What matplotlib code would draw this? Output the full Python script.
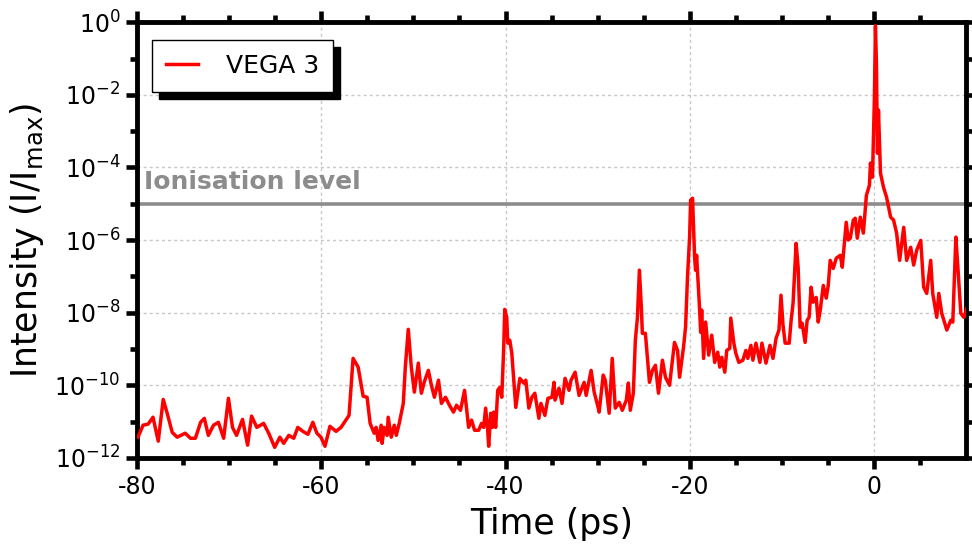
"""Temporal intensity contrast of the VEGA 3 laser pulse, log scale, with ionisation level."""
import numpy as np
import matplotlib; matplotlib.use("Agg"); import matplotlib.pyplot as plt
from matplotlib.patches import Rectangle
from matplotlib.ticker import NullFormatter

plt.rcParams.update({"font.family": "DejaVu Sans", "axes.unicode_minus": False,
                     "mathtext.fontset": "dejavusans"})

# time (ps) and log10 of normalised intensity
t = [-79.9, -79.35, -78.8, -78.27, -77.7, -77.16, -76.73, -76.18, -75.64, -74.77, -74.2, -73.67,
     -73.1, -72.7, -72.26, -71.7, -71.17, -70.6, -70.08, -69.64, -69.2, -68.55, -68.0, -67.57,
     -67.0, -66.26, -65.71, -65.06, -64.5, -64.08,
     -63.53, -62.99, -62.55, -62.0, -61.45, -60.92, -60.48, -60.04, -59.6, -59.06, -58.4, -57.86,
     -56.99, -56.55, -56.0, -55.46, -55.03, -54.7, -54.26, -54.05, -53.83, -53.5, -53.4, -53.17,
     -52.85, -52.74, -52.41, -52.08, -51.86, -51.54, -51.1, -50.88, -50.56, -50.23, -49.9, -49.47, -49.14,
     -48.81, -48.38, -48.05, -47.72, -47.28, -46.96, -46.52, -46.09, -45.65, -45.32, -44.89, -44.45,
     -44.01, -43.69, -43.36, -42.92, -42.6, -42.38, -42.16, -41.94, -41.83, -41.61, -41.4, -41.29,
     -41.07, -40.85, -40.63, -40.41, -40.2, -40.09, -39.87, -39.76, -39.54, -39.32, -39.11, -38.89,
     -38.45, -38.02, -37.8, -37.47, -37.14, -36.82, -36.38, -36.16, -35.73, -35.4, -34.96, -34.74,
     -34.63, -34.2, -33.87, -33.54,
     -33.11, -32.89, -32.45, -32.02, -31.47, -31.25, -30.71, -30.38, -29.95, -29.84, -29.4, -29.18,
     -28.75, -28.42, -28.09, -27.66, -27.33, -26.89, -26.67, -26.46, -26.13, -25.91, -25.69, -25.47,
     -25.26, -25.15, -24.82, -24.6, -24.38, -24.06, -23.73, -23.4, -22.97, -22.64, -22.2, -21.66,
     -21.33, -21.11, -20.68, -20.46, -20.24, -20.02, -19.91, -19.7, -19.48, -19.37, -19.26, -18.93,
     -18.82, -18.71, -18.5, -18.28,
     -17.95, -17.62, -17.3, -16.97, -16.75, -16.53, -16.2, -15.99, -15.66, -15.55, -15.22, -15.0,
     -14.68, -14.24, -13.91, -13.7, -13.37, -13.15, -12.82, -12.39, -12.17, -11.73, -11.3, -10.97,
     -10.64, -10.32, -10.1, -9.88, -9.65, -9.21, -9.0, -8.79, -8.46, -8.24, -8.02, -7.81, -7.48,
     -7.26, -7.05, -6.83, -6.61, -6.28, -6.06, -5.84, -5.51, -5.19, -4.97, -4.76, -4.43, -4.1,
     -3.66, -3.45, -3.02, -2.8, -2.58, -2.25, -2.04, -1.82, -1.49, -1.16, -0.83, -0.5, -0.39,
     -0.17, 0.04, 0.15, 0.26, 0.37, 0.48, 0.7, 1.03, 1.36, 1.8, 2.12, 2.45, 2.78, 3.22, 3.54,
     3.98, 4.3, 4.63, 5.07, 5.39, 5.72, 6.15, 6.37, 6.81, 7.03, 7.35, 7.9, 8.33, 8.55, 8.88,
     9.1, 9.42, 9.75, 10.08]
logI = [-11.43, -11.10, -11.07, -10.88, -11.54, -10.39, -10.77, -11.30, -11.43, -11.32, -11.46, -11.46,
        -11.02, -10.91, -11.38, -11.10, -11.02, -11.46, -10.36, -11.16, -11.38, -10.94, -11.65, -10.85,
        -11.16, -11.05, -11.32, -11.71, -11.43, -11.60,
        -11.38, -11.46, -11.16, -11.27, -11.35, -11.02, -11.32, -11.43, -11.68, -11.13, -11.27, -11.16,
        -10.83, -9.26, -9.50, -10.30, -10.33, -11.05, -11.32, -11.16, -11.52, -11.10, -11.60, -11.16,
        -11.38, -10.88, -11.43, -11.10, -11.38, -11.05, -10.50, -9.50, -8.46, -9.50, -10.19, -9.39, -10.22,
        -9.9, -9.59, -10.0, -10.33, -9.86, -10.50, -10.33, -10.55, -10.74, -10.55, -10.69, -10.14,
        -11.16, -10.96, -11.24, -11.24, -11.05, -11.16, -10.63, -11.24, -11.68, -10.77, -11.16, -10.74,
        -11.16, -10.14, -10.06, -10.33, -8.98, -7.91, -8.13, -8.84, -8.76, -9.12, -9.86, -10.61,
        -9.81, -9.94, -9.86, -10.63, -10.33, -10.22, -10.91, -10.50, -10.83, -10.36, -10.33, -9.92,
        -10.41, -10.08, -10.50, -9.81,
        -10.14, -9.86, -9.64, -10.28, -9.92, -10.28, -9.59, -10.19, -10.61, -10.74, -9.72, -9.86,
        -10.77, -9.26, -10.63, -10.47, -10.69, -10.41, -9.94, -10.69, -10.22, -8.76, -8.15, -6.83,
        -7.85, -8.57, -8.57, -9.23, -9.92, -9.59, -9.45, -10.22, -9.31, -9.78, -10.0, -8.82,
        -9.04, -9.78, -8.95, -8.40, -6.97, -5.92, -4.90, -4.85, -6.47, -6.83, -6.42, -7.93,
        -8.54, -7.93, -9.26, -8.26,
        -9.17, -8.62, -9.37, -9.09, -9.50, -9.23, -9.64, -9.04, -8.98, -8.15, -8.84, -9.12,
        -9.37, -9.31, -9.04, -9.26, -8.90, -9.31, -8.84, -9.37, -8.84, -9.39, -8.90, -9.26,
        -8.71, -8.48, -7.52, -8.35, -8.84, -8.84, -8.21, -7.74, -6.09, -6.75, -8.40, -8.29, -8.82,
        -8.21, -8.13, -7.30, -7.71, -7.58, -8.26, -7.93, -7.25, -7.60, -7.25, -6.56, -6.78, -6.50,
        -6.42, -6.75, -5.51, -6.0, -5.95, -5.45, -5.40, -5.95, -5.37, -5.81, -4.77, -4.49, -3.88,
        -4.27, -2.07, -0.1, -1.13, -3.61, -2.42, -4.16, -4.55, -4.82, -5.37, -5.45, -5.81, -6.56, -5.65,
        -6.56, -6.20, -6.69, -6.28, -6.01, -7.30, -7.47, -6.56, -7.47, -8.13, -7.47, -8.02, -8.48,
        -8.21, -8.26, -5.92, -6.75, -8.02, -8.13, -7.88]
ion_level = 1e-5
series_name = "VEGA 3"

fig = plt.figure(figsize=(9.72, 5.55), dpi=100)
ax = fig.add_axes([0.141, 0.175, 0.853, 0.785])
ax.set_yscale("log")
ax.grid(True, which="major", color="#c8c8c8", ls=(0, (2.2, 2.2)), lw=1)
ax.axhline(ion_level, color="#8c8c8c", lw=2.6, zorder=2)
ax.text(-79.2, 10**-4.72, "Ionisation level", color="#8c8c8c", fontsize=18,
        fontweight="bold", va="bottom", ha="left")
ax.plot(t, 10.0**np.array(logI), color="red", lw=2.5, label=series_name, zorder=3)

ax.set_xlim(-80, 10); ax.set_ylim(1e-12, 1e0)
ax.set_xticks([-80, -60, -40, -20, 0]); ax.set_xticks(np.arange(-75, 10, 5), minor=True)
ax.set_yticks([10.0**k for k in range(-12, 1, 2)])
ax.set_yticks([10.0**k for k in range(-11, 0, 2)], minor=True)
ax.yaxis.set_minor_formatter(NullFormatter())
ax.tick_params(which="both", direction="out", top=True, right=True, width=3.3, labelsize=17)
ax.tick_params(which="major", length=8, pad=4)
ax.tick_params(which="minor", length=5)
for s in ax.spines.values():
    s.set_linewidth(3.5)
ax.set_xlabel("Time (ps)", fontsize=25, labelpad=6)
ax.set_ylabel("Intensity (I/I$_{\\mathrm{max}}$)", fontsize=25, labelpad=6)

leg = ax.legend(loc="upper left", bbox_to_anchor=(0.018, 0.959), borderaxespad=0, fontsize=18,
                fancybox=False, edgecolor="black", framealpha=1, handlelength=1.3,
                handletextpad=1.1, borderpad=0.55)
leg.get_frame().set_linewidth(1)
leg.set_zorder(6)
fig.canvas.draw()
bb = leg.get_window_extent()
ax.add_patch(Rectangle((bb.x0 + 7, bb.y0 - 7), bb.width, bb.height, transform=None,
                       color="black", zorder=5.5, clip_on=False))

fig.savefig("out.png", dpi=100)
